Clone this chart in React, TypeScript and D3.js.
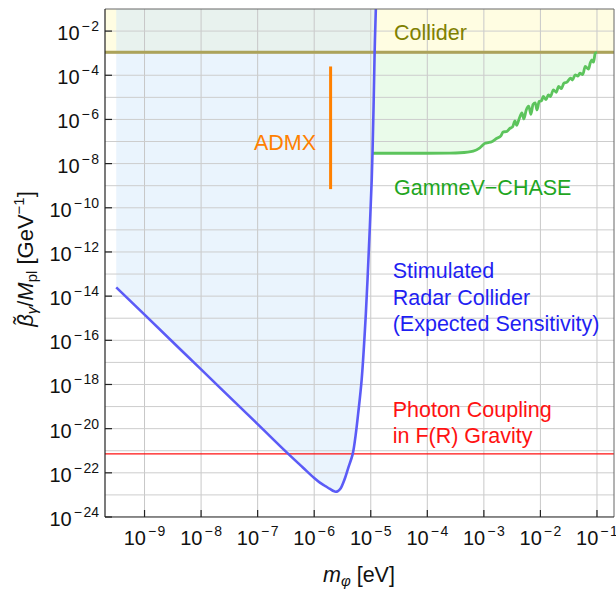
import React from 'react';
import * as d3 from 'd3';

// tick exponents
const xTickExp = [-9, -8, -7, -6, -5, -4, -3, -2, -1];
const yTickExp = [-24, -22, -20, -18, -16, -14, -12, -10, -8, -6, -4, -2];
const yGridExp = d3.range(-24, -1);

// stimulated radar collider (expected sensitivity)
const radarMass = [
  3.16e-10, 1e-9, 1e-8, 1e-7, 3.16e-7, 6.3e-7, 1e-6, 1.26e-6, 1.58e-6, 1.9e-6, 2.19e-6, 2.4e-6,
  2.63e-6, 2.95e-6, 3.24e-6, 3.55e-6, 3.98e-6, 4.8e-6, 5.4e-6, 6.0e-6, 6.9e-6, 8.2e-6,
  9.3e-6, 1.04e-5, 1.12e-5, 1.17e-5, 1.23e-5, 1.25e-5,
];
const radarCoupling = [
  2.5e-14, 1.45e-15, 4.8e-18, 1.6e-20, 9.1e-22, 1.74e-22, 5.8e-23, 3.6e-23, 2.5e-23, 1.86e-23, 1.5e-23,
  1.4e-23, 1.5e-23, 2.0e-23, 3.4e-23, 6.3e-23, 1.6e-22, 7.2e-22, 5e-21, 5e-20, 1.6e-18,
  1.7e-15, 1.7e-12, 1.8e-9, 3.2e-6, 1e-3, 0.1, 0.3,
];

// GammeV-CHASE
const chaseMass = [
  1.05e-5, 1e-4, 2.5e-4, 3.8e-4, 6.5e-4, 8.5e-4, 1.05e-3, 1.2e-3, 1.38e-3, 1.7e-3, 2.0e-3,
  2.2e-3, 2.5e-3, 2.9e-3, 3.2e-3, 3.55e-3, 3.8e-3, 4.2e-3, 4.7e-3, 5.1e-3, 5.6e-3, 6.2e-3,
  6.8e-3, 7.4e-3, 8.1e-3, 8.7e-3, 9.5e-3, 1.05e-2, 1.12e-2, 1.26e-2, 1.38e-2, 1.5e-2, 1.7e-2,
  1.9e-2, 2.1e-2, 2.35e-2, 2.6e-2, 2.95e-2, 3.4e-2, 3.7e-2, 4.1e-2, 4.6e-2, 5.0e-2, 5.6e-2,
  6.2e-2, 7.1e-2, 7.6e-2, 8.1e-2, 8.7e-2, 9.3e-2, 0.1,
];
const chaseCoupling = [
  2.95e-8, 2.95e-8, 3.0e-8, 3.1e-8, 3.7e-8, 5.2e-8, 8.3e-8, 8.9e-8, 9.8e-8, 1.4e-7, 1.8e-7,
  2.75e-7, 2.8e-7, 4.0e-7, 4.5e-7, 8.5e-7, 5.4e-7, 1.05e-6, 2.0e-6, 1.05e-6, 2.6e-6, 4.0e-6,
  1.7e-6, 4.7e-6, 5.6e-6, 2.7e-6, 6.5e-6, 7.1e-6, 1.1e-5, 8.0e-6, 1.3e-5, 1.08e-5, 2.2e-5,
  1.7e-5, 3.1e-5, 2.5e-5, 4.4e-5, 4.9e-5, 7.4e-5, 6.1e-5, 1.05e-4, 9.2e-5, 1.26e-4, 1.08e-4,
  2.5e-4, 1.9e-4, 3.6e-4, 5.0e-4, 3.9e-4, 9.8e-4, 1.1e-3,
];

// ADMX, collider bound, F(R) photon coupling
const admxMass = 1.95e-6;
const admxCoupling = [2.5e-4, 7e-10];
const colliderCoupling = 1.1e-3;
const fRCoupling = 7.2e-22;

const FONT = '"Liberation Sans", Arial, sans-serif';

const App = () => {
  const left = 105, right = 614, top = 9, bottom = 517;
  const x = d3.scaleLog().domain([2e-10, 0.2]).range([left, right]);
  const y = d3.scaleLog().domain([1e-24, 1e-1]).range([bottom, top]);

  const radar = radarMass.map((m, i) => [m, radarCoupling[i]] as [number, number]);
  const chase = chaseMass.map((m, i) => [m, chaseCoupling[i]] as [number, number]);

  const radarLine = d3.line<[number, number]>()
    .x(d => x(d[0])).y(d => y(d[1]))
    .curve(d3.curveCatmullRom.alpha(0.5));
  const radarArea = d3.area<[number, number]>()
    .x(d => x(d[0])).y0(top - 20).y1(d => y(d[1]))
    .curve(d3.curveCatmullRom.alpha(0.5));
  const chaseLine = d3.line<[number, number]>()
    .x(d => x(d[0])).y(d => y(d[1]))
    .curve(d3.curveMonotoneX);
  const chaseArea = d3.area<[number, number]>()
    .x(d => x(d[0])).y0(y(colliderCoupling)).y1(d => y(d[1]))
    .curve(d3.curveMonotoneX);

  const yCol = y(colliderCoupling);

  return (
    <svg width={616} height={589} style={{ position: 'absolute', left: 0, top: 0 }} fontFamily={FONT}>
      <defs>
        <clipPath id="plot">
          <rect x={left} y={top} width={right - left} height={bottom - top} />
        </clipPath>
        <clipPath id="radarClip">
          <path d={radarArea(radar) || ''} />
        </clipPath>
      </defs>
      <g clipPath="url(#plot)">
        {/* fills */}
        <path d={radarArea(radar) || ''} fill="#eaf4fd" />
        <path d={chaseArea(chase) || ''} fill="#eafbea" />
        <rect x={left} y={top} width={right - left} height={yCol - top} fill="#fffde2" />
        <g clipPath="url(#radarClip)">
          <rect x={left} y={top} width={right - left} height={yCol - top} fill="#e8f2ee" />
        </g>

        {/* grid */}
        {xTickExp.map(e => (
          <line key={'gx' + e} x1={x(10 ** e)} x2={x(10 ** e)} y1={top} y2={bottom} stroke="#c8c8c8" strokeWidth={1} />
        ))}
        {yGridExp.map(e => (
          <line key={'gy' + e} x1={left} x2={right} y1={y(10 ** e)} y2={y(10 ** e)} stroke="#cdcdcd" strokeWidth={1} />
        ))}

        {/* curves */}
        <line x1={left} x2={right} y1={y(fRCoupling)} y2={y(fRCoupling)} stroke="#ff1010" strokeWidth={1.2} />
        <line x1={left} x2={right} y1={yCol} y2={yCol} stroke="#aca35a" strokeWidth={3} />
        <path d={chaseLine(chase) || ''} fill="none" stroke="#5cc45c" strokeWidth={2.8} strokeLinejoin="round" />
        <path d={radarLine(radar) || ''} fill="none" stroke="#5b5bf7" strokeWidth={2.6} />
        <line x1={x(admxMass)} x2={x(admxMass)} y1={y(admxCoupling[0])} y2={y(admxCoupling[1])} stroke="#ff8000" strokeWidth={3} />
      </g>

      {/* frame */}
      <line x1={left} x2={right} y1={top} y2={top} stroke="#666" strokeWidth={1} />
      <line x1={right} x2={right} y1={top} y2={bottom} stroke="#666" strokeWidth={1} />
      <line x1={left} x2={left} y1={top} y2={bottom} stroke="#222" strokeWidth={1.2} />
      <line x1={left} x2={right} y1={bottom} y2={bottom} stroke="#222" strokeWidth={1.2} />

      {/* y ticks */}
      {yTickExp.map(e => (
        <g key={'ty' + e}>
          <line x1={left} x2={left + 7} y1={y(10 ** e)} y2={y(10 ** e)} stroke="#222" strokeWidth={1.2} />
          <text x={99} y={y(10 ** e) + 9} textAnchor="end" fontSize={20} fill="#111">
            10<tspan dx={2} dy={-9} fontSize={14}>−</tspan><tspan dx={1.5} fontSize={14}>{String(-e)}</tspan>
          </text>
        </g>
      ))}

      {/* x ticks */}
      {xTickExp.map(e => (
        <g key={'tx' + e}>
          <line x1={x(10 ** e)} x2={x(10 ** e)} y1={bottom} y2={bottom - 7} stroke="#222" strokeWidth={1.2} />
          <text x={x(10 ** e)} y={545} textAnchor="middle" fontSize={20} fill="#111">
            10<tspan dx={2} dy={-9} fontSize={14}>−</tspan><tspan dx={1.5} fontSize={14}>{String(-e)}</tspan>
          </text>
        </g>
      ))}

      {/* axis titles */}
      <text x={323} y={582} fontSize={21.5} fill="#111">
        <tspan fontStyle="italic">m</tspan>
        <tspan fontStyle="italic" fontSize={15} dy={4}>φ</tspan>
        <tspan dy={-4}> [eV]</tspan>
      </text>
      <text transform="translate(33,259) rotate(-90)" textAnchor="middle" fontSize={22} fill="#111">
        <tspan fontStyle="italic">β̃</tspan>
        <tspan fontStyle="italic" fontSize={15} dy={4}>γ</tspan>
        <tspan dy={-4}>/</tspan>
        <tspan fontStyle="italic">M</tspan>
        <tspan fontSize={15} dy={4}>pl</tspan>
        <tspan dy={-4}> [GeV</tspan>
        <tspan fontSize={15} dy={-9}>−1</tspan>
        <tspan dy={9}>]</tspan>
      </text>

      {/* annotations */}
      <text x={394} y={39.5} fontSize={21.5} fill="#808000">Collider</text>
      <text x={316} y={149.5} fontSize={21.5} fill="#ff8000" textAnchor="end">ADMX</text>
      <text x={394} y={195} fontSize={21.5} fill="#1fa61f">GammeV−CHASE</text>
      <text x={392.7} y={278.3} fontSize={21.5} fill="#1f1ff2">
        <tspan x={392.7}>Stimulated</tspan>
        <tspan x={392.7} dy={26.3}>Radar Collider</tspan>
        <tspan x={392.7} dy={26.3}>(Expected Sensitivity)</tspan>
      </text>
      <text x={392.7} y={416.7} fontSize={21.5} fill="#ff1212">
        <tspan x={392.7}>Photon Coupling</tspan>
        <tspan x={392.7} dy={26}>in F(R) Gravity</tspan>
      </text>
    </svg>
  );
};

export default App;
